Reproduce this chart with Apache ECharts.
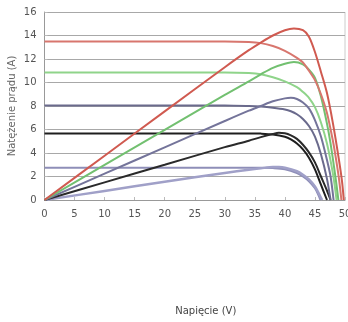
<!DOCTYPE html>
<html>
<head>
<meta charset="utf-8">
<script src="https://cdn.jsdelivr.net/npm/echarts@6/dist/echarts.min.js"></script>
<style>html,body{margin:0;padding:0;background:#fff}#c{width:348px;height:322px}</style>
</head>
<body>
<div id="c"></div>
<script>
// Voltage (V), current (A) pairs
var ivRed = [[0,13.5],[10,13.5],[20,13.5],[30,13.5],[34,13.45],[36,13.35],[38,13.1],[40,12.7],[42,12.1],[43,11.7],[44,11.0],[45,10.2],[46,9.0],[47,7.4],[48,5.0],[48.5,3.5],[49,1.8],[49.4,0]];
var pRed = [[0,0],[10,3.77],[20,7.54],[30,11.3],[34,12.75],[36,13.4],[38,14.0],[40,14.45],[41.5,14.6],[43,14.45],[44,13.9],[45,12.6],[46,10.9],[47,9.1],[48,6.5],[49,3.4],[49.5,1.6],[49.8,0]];
var ivGreen = [[0,10.85],[10,10.85],[20,10.85],[30,10.85],[34,10.8],[36,10.7],[38,10.45],[40,10.1],[42,9.6],[43,9.2],[44,8.7],[45,7.9],[46,6.6],[47,4.8],[48,2.2],[48.6,0]];
var pGreen = [[0,0],[10,2.98],[20,5.96],[30,8.95],[34,10.1],[36,10.7],[38,11.25],[40,11.6],[41.5,11.75],[43,11.55],[44,11.1],[45,10.4],[46,8.8],[47,6.5],[47.6,4.8],[48.4,2.0],[48.9,0]];
var ivSlate = [[0,8.05],[10,8.05],[20,8.05],[30,8.05],[34,8.0],[36,7.95],[38,7.85],[40,7.7],[41,7.55],[42,7.3],[43,6.9],[44,6.3],[45,5.4],[46,3.9],[47,1.8],[47.6,0]];
var pSlate = [[0,0],[10,2.24],[20,4.48],[30,6.72],[34,7.6],[36,8.0],[38,8.4],[40,8.65],[41,8.7],[42,8.6],[43,8.3],[44,7.8],[45,6.8],[46,5.4],[47,3.4],[47.6,2.0],[48.1,0]];
var ivBlack = [[0,5.67],[10,5.67],[20,5.67],[30,5.67],[34,5.67],[36,5.65],[38,5.58],[40,5.38],[41,5.15],[42,4.8],[43,4.3],[44,3.6],[45,2.6],[46,1.3],[47,0]];
var pBlack = [[0,0],[10,1.5],[20,3.0],[30,4.5],[34,5.05],[36,5.35],[38,5.62],[39,5.72],[40,5.68],[41,5.5],[42,5.2],[43,4.7],[44,4.05],[45,3.2],[46,2.0],[47,0.8],[47.6,0]];
var ivPurple = [[0,2.75],[10,2.75],[20,2.75],[30,2.75],[36,2.75],[38,2.72],[40,2.62],[42,2.3],[43,2.0],[44,1.6],[45,1.0],[45.6,0.4],[45.9,0]];
var pPurple = [[0,0],[10,0.77],[20,1.55],[30,2.3],[34,2.58],[36,2.7],[38,2.8],[39,2.8],[40,2.75],[42,2.45],[43,2.15],[44,1.75],[45,1.15],[45.8,0.4],[46.2,0]];
var yTicks = [0,2,4,6,8,10,12,14,16];
var xTicks = [0,5,10,15,20,25,30,35,40,45,50];

var font = 'DejaVu Sans';
function line(data, color, w) {
  return {type:'line', data:data, symbol:'none', smooth:0.3,
    lineStyle:{color:color, width:w}, silent:true, animation:false};
}
var chart = echarts.init(document.getElementById('c'), null, {renderer:'canvas'});
chart.setOption({
  animation:false,
  backgroundColor:'#fff',
  grid:{left:44.5, right:3, top:12, bottom:122, containLabel:false, outerBoundsMode:'none'},
  xAxis:{type:'value', min:xTicks[0], max:xTicks[xTicks.length-1], interval:5,
    name:'Napięcie (V)', nameLocation:'middle', nameGap:106,
    nameTextStyle:{fontFamily:font, fontSize:10, color:'#444', padding:[0,0,0,22]},
    axisLine:{lineStyle:{color:'#999'}}, axisTick:{show:true, inside:true, length:3, lineStyle:{color:'#bbb'}},
    axisLabel:{fontFamily:font, fontSize:10, color:'#555', margin:9},
    splitLine:{show:false}},
  yAxis:{type:'value', min:yTicks[0], max:yTicks[yTicks.length-1], interval:2,
    name:'Natężenie prądu (A)', nameLocation:'middle', nameGap:27, nameMoveOverlap:false,
    nameTextStyle:{fontFamily:font, fontSize:10, color:'#666'},
    axisLine:{show:true, lineStyle:{color:'#999'}}, axisTick:{show:true, inside:true, length:3, lineStyle:{color:'#bbb'}},
    axisLabel:{fontFamily:font, fontSize:10, color:'#555', margin:8},
    splitLine:{show:true, lineStyle:{color:'#a8a8a8', width:1}}},
  graphic:[{type:'line', shape:{x1:345, y1:12, x2:345, y2:200}, style:{stroke:'#ccc', lineWidth:1}, silent:true}],
  series:[
    line(ivPurple,'#8e8eb8',2), line(pPurple,'#a0a0c8',2.5),
    line(ivBlack,'#1e1e1e',2), line(pBlack,'#2a2a2a',2),
    line(ivSlate,'#6a6a8c',2), line(pSlate,'#74749a',2),
    line(ivGreen,'#8fd48a',2), line(pGreen,'#72c070',2),
    line(ivRed,'#d8766e',2), line(pRed,'#d05a50',2)
  ]
});
</script>
</body>
</html>
